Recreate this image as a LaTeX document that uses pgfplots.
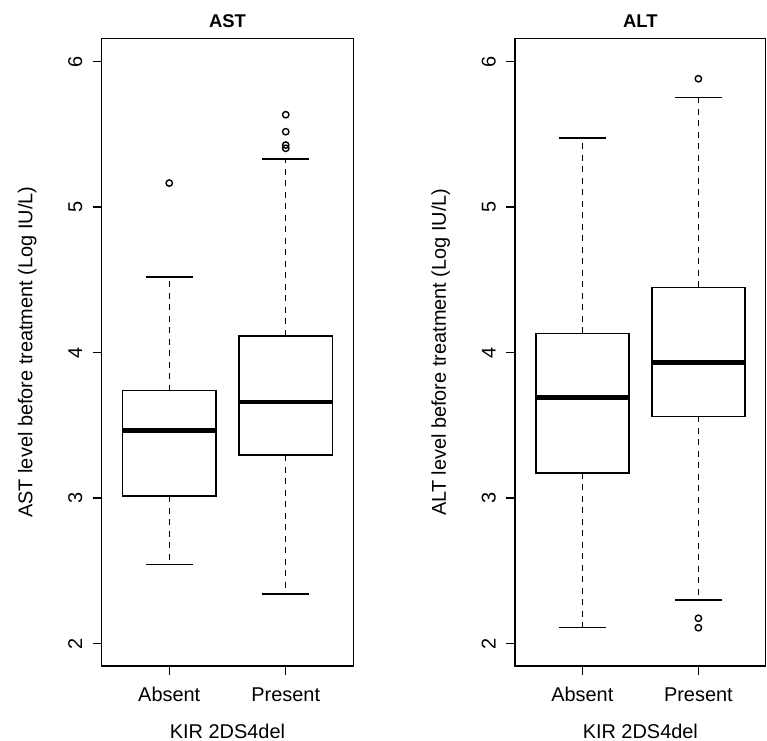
\documentclass[border=0pt]{standalone}
\usepackage{fontspec}
\setmainfont{Liberation Sans}
\usepackage{pgfplots}
\pgfplotsset{compat=1.18}
\usepgfplotslibrary{statistics}
\pgfplotsset{
  boxplot/draw/whisker/.code 2 args={%
    \draw[black, line width=1.5bp, dash pattern=on 6bp off 5.5bp] (boxplot cs:#1) -- (boxplot cs:#2);
    \draw[black, line width=1.5bp, solid] (boxplot whisker cs:#2,0) -- (boxplot whisker cs:#2,1);
  },
  rpanel/.style={
    scale only axis, width=251.6bp, height=627.7bp, anchor=south west,
    xmin=0.42, xmax=2.58, ymin=1.847, ymax=6.161,
    xtick={1,2}, xticklabels={Absent,Present},
    ytick={2,3,4,5,6},
    tick pos=left, tick align=outside, major tick length=9bp,
    every tick/.style={black, line width=1.5bp},
    axis line style={line width=1.5bp},
    /pgf/number format/assume math mode=true,
    tick label style={font=\fontsize{20}{24}\selectfont},
    xticklabel style={anchor=base, yshift=-26.7bp},
    yticklabel style={xshift=-10.5bp, rotate=90, anchor=base},
    label style={font=\fontsize{20}{24}\selectfont},
    xlabel style={at={(axis description cs:0.5,-0.1152)}, anchor=base},
    ylabel style={at={(axis description cs:-0.2758,0.5)}, anchor=base},
    title style={font=\bfseries\fontsize{18.5}{22}\selectfont, at={(0.5,1)}, anchor=base, yshift=5bp},
    boxplot/draw direction=y,
    boxplot/box extend=0.8,
    boxplot/whisker extend=0.4,
    boxplot/every box/.style={draw=black, fill=white, line width=1.5bp},
    boxplot/every median/.style={draw=black, line width=4.5bp},
    xlabel={KIR 2DS4del},
  },
  rbox/.style={black, solid, line width=1.5bp, mark=o, mark size=3.2bp,
    mark options={solid, line width=1.4bp}},
}
\begin{document}
\begin{tikzpicture}
\path[use as bounding box] (0bp,0bp) rectangle (767bp,741bp);
% AST
\begin{axis}[rpanel, at={(101.7bp,75bp)}, title={AST},
  ylabel={AST level before treatment (Log IU/L)}]
\addplot[rbox, boxplot prepared={draw position=1,
  lower whisker=2.546, lower quartile=3.015, median=3.464,
  upper quartile=3.739, upper whisker=4.520}]
  table[row sep=\\, y index=0] {data\\ 5.166\\};
\addplot[rbox, boxplot prepared={draw position=2,
  lower whisker=2.342, lower quartile=3.297, median=3.661,
  upper quartile=4.115, upper whisker=5.331}]
  table[row sep=\\, y index=0] {data\\ 5.636\\ 5.519\\ 5.427\\ 5.405\\};
\end{axis}
% ALT
\begin{axis}[rpanel, at={(515bp,75bp)}, width=250.7bp, title={ALT},
  ylabel={ALT level before treatment (Log IU/L)}]
\addplot[rbox, boxplot prepared={draw position=1,
  lower whisker=2.110, lower quartile=3.175, median=3.693,
  upper quartile=4.133, upper whisker=5.476}]
  coordinates {};
\addplot[rbox, boxplot prepared={draw position=2,
  lower whisker=2.302, lower quartile=3.563, median=3.934,
  upper quartile=4.449, upper whisker=5.755}]
  table[row sep=\\, y index=0] {data\\ 5.883\\ 2.175\\ 2.110\\};
\end{axis}
\end{tikzpicture}
\end{document}
